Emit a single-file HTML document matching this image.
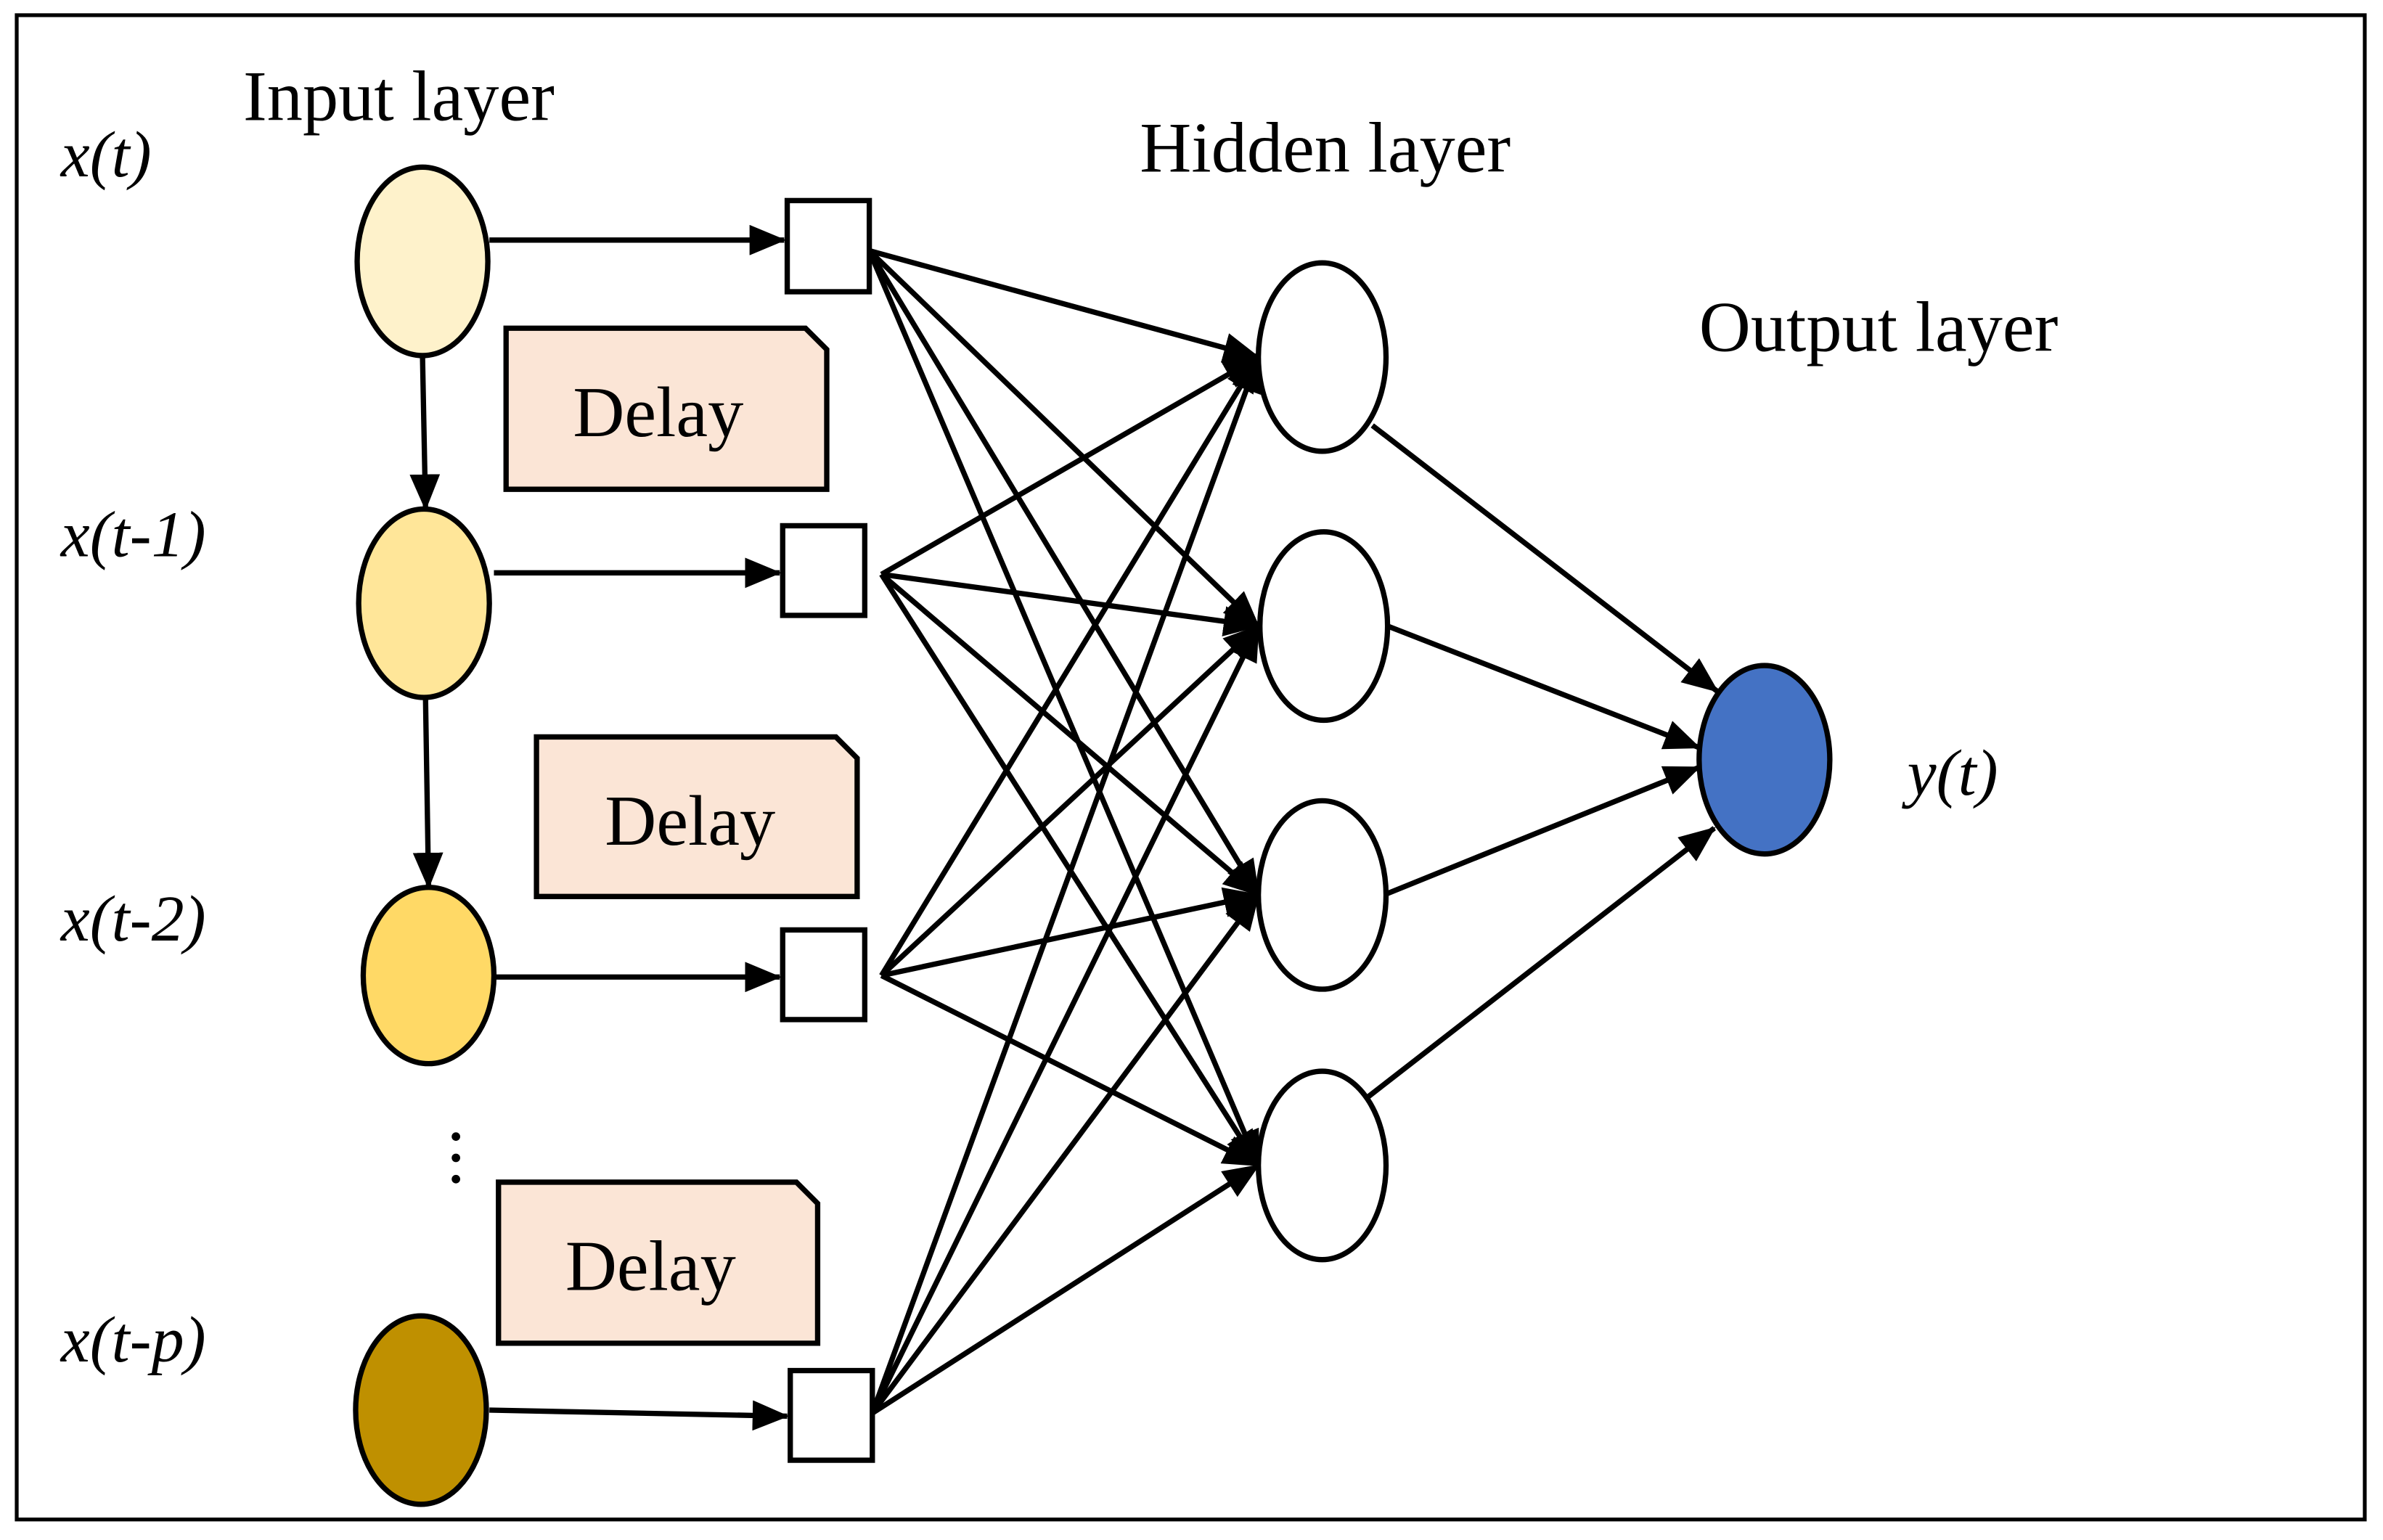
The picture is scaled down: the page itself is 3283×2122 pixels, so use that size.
<!DOCTYPE html>
<html><head><meta charset="utf-8"><style>
html,body{margin:0;padding:0;background:#fff;}
svg{display:block;}
text{font-family:"Liberation Serif",serif;fill:#000;}
</style></head><body>
<svg width="3283" height="2122" viewBox="0 0 1568 1013.5" preserveAspectRatio="none" xmlns="http://www.w3.org/2000/svg">
<defs>
<marker id="h" viewBox="0 0 10 10" refX="9.5" refY="5" markerWidth="24" markerHeight="20" markerUnits="userSpaceOnUse" orient="auto" preserveAspectRatio="none">
<path d="M0,0 L10,5 L0,10 Z" fill="#000"/>
</marker>
</defs>
<rect x="11" y="10" width="1545" height="990" fill="#fff" stroke="#000" stroke-width="2.5"/>
<g font-size="47">
<text x="160" y="79">Input layer</text>
<text x="750" y="113">Hidden layer</text>
<text x="1118" y="231">Output layer</text>
</g>
<g font-size="43" font-style="italic">
<text x="40" y="116">x(t)</text>
<text x="40" y="366">x(t-1)</text>
<text x="40" y="619">x(t-2)</text>
<text x="40" y="896">x(t-p)</text>
<text x="1255" y="523">y(t)</text>
</g>
<g stroke="#000" stroke-width="3.5" fill="none" marker-end="url(#h)">
<line x1="322" y1="158" x2="516" y2="158"/>
<line x1="325" y1="377" x2="513" y2="377"/>
<line x1="325" y1="643" x2="513" y2="643"/>
<line x1="322" y1="928" x2="518" y2="932"/>
<line x1="278" y1="234" x2="280" y2="335"/>
<line x1="280" y1="460" x2="282" y2="584"/>
<line x1="572" y1="165" x2="828" y2="235"/><line x1="572" y1="165" x2="828" y2="412"/><line x1="572" y1="165" x2="828" y2="589"/><line x1="572" y1="165" x2="828" y2="767"/>
<line x1="580" y1="378" x2="828" y2="235"/><line x1="580" y1="378" x2="828" y2="412"/><line x1="580" y1="378" x2="828" y2="589"/><line x1="580" y1="378" x2="828" y2="767"/>
<line x1="580" y1="642" x2="828" y2="235"/><line x1="580" y1="642" x2="828" y2="412"/><line x1="580" y1="642" x2="828" y2="589"/><line x1="580" y1="642" x2="828" y2="767"/>
<line x1="574" y1="930" x2="828" y2="235"/><line x1="574" y1="930" x2="828" y2="412"/><line x1="574" y1="930" x2="828" y2="589"/><line x1="574" y1="930" x2="828" y2="767"/>
<line x1="903" y1="280" x2="1130" y2="455"/>
<line x1="913" y1="412" x2="1118" y2="492"/>
<line x1="913" y1="588" x2="1118" y2="505"/>
<line x1="900" y1="722" x2="1128" y2="545"/>
</g>
<g stroke="#000" stroke-width="3.5">
<ellipse cx="278" cy="172" rx="43" ry="62" fill="#FEF2CB"/>
<ellipse cx="279" cy="397" rx="43" ry="62" fill="#FFE699"/>
<ellipse cx="282" cy="642" rx="43" ry="58" fill="#FFD966"/>
<ellipse cx="277" cy="928" rx="43" ry="62" fill="#BF9000"/>
<ellipse cx="870" cy="235" rx="42" ry="62" fill="#fff"/>
<ellipse cx="871" cy="412" rx="42" ry="62" fill="#fff"/>
<ellipse cx="870" cy="589" rx="42" ry="62" fill="#fff"/>
<ellipse cx="870" cy="767" rx="42" ry="62" fill="#fff"/>
<ellipse cx="1161" cy="500" rx="43" ry="62" fill="#4472C4"/>
<rect x="518" y="132" width="54" height="60" fill="#fff"/>
<rect x="515" y="346" width="54" height="59" fill="#fff"/>
<rect x="515" y="612" width="54" height="59" fill="#fff"/>
<rect x="520" y="902" width="54" height="59" fill="#fff"/>
<path d="M333,216 H530 L544,230 V322 H333 Z" fill="#FBE5D6"/>
<path d="M353,485 H550 L564,499 V590 H353 Z" fill="#FBE5D6"/>
<path d="M328,778 H524 L538,792 V884 H328 Z" fill="#FBE5D6"/>
</g>
<g font-size="47">
<text x="377" y="287">Delay</text>
<text x="398" y="556">Delay</text>
<text x="372" y="849">Delay</text>
</g>
<g fill="#000"><circle cx="300" cy="748" r="2.8"/><circle cx="300" cy="762" r="2.8"/><circle cx="300" cy="776" r="2.8"/></g>
</svg>
</body></html>
